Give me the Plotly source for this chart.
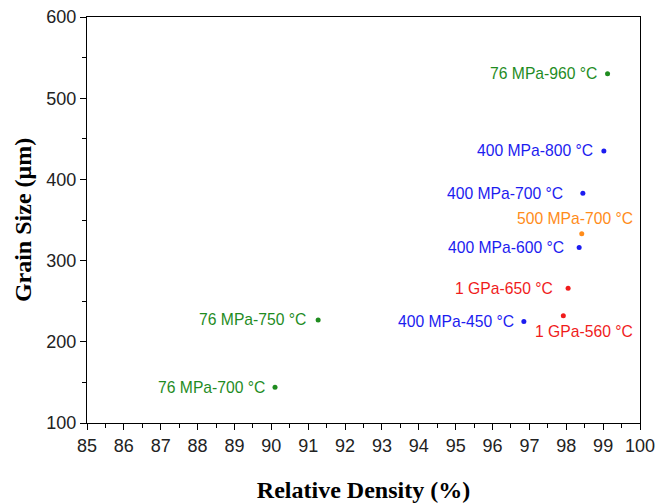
import plotly.graph_objects as go

# Data
labels = ["76 MPa-960 °C", "400 MPa-800 °C", "400 MPa-700 °C", "500 MPa-700 °C",
          "400 MPa-600 °C", "1 GPa-650 °C", "1 GPa-560 °C", "400 MPa-450 °C",
          "76 MPa-750 °C", "76 MPa-700 °C"]
density = [99.12, 99.02, 98.45, 98.42, 98.35, 98.05, 97.92, 96.85, 91.27, 90.1]
grain_size = [530, 435, 383, 333, 316, 266, 232, 225, 227, 144]
groups = ["green", "blue", "blue", "orange", "blue", "red", "red", "blue", "green", "green"]

# Styles
color_map = {"green": "#1f8c1f", "blue": "#1c1cf0", "orange": "#ff8c1a", "red": "#f01c1c"}
# label offsets (px) and anchors
label_style = [
    (-9, 0, "right"), (-9, 0, "right"), (-18, 0, "right"), (-7, -15, "center"),
    (-13, 0, "right"), (-13, 0, "right"), (21, 16, "center"), (-8, 0, "right"),
    (-10, 0, "right"), (-8, 0, "right"),
]

colors = [color_map[g] for g in groups]

fig = go.Figure()
fig.add_trace(go.Scatter(
    x=density, y=grain_size, mode="markers",
    marker=dict(size=5, color=colors),
    showlegend=False, hoverinfo="skip"))

for lab, xv, yv, c, (dx, dy, anc) in zip(labels, density, grain_size, colors, label_style):
    fig.add_annotation(x=xv, y=yv, text=lab, showarrow=False,
                       xanchor=anc, yanchor="middle", xshift=dx, yshift=-dy,
                       font=dict(family="Liberation Sans, Arial", size=15.7, color=c))

axis_common = dict(showline=True, linecolor="black", linewidth=1.3, mirror=True,
                   ticks="outside", ticklen=6, tickwidth=1.2, tickcolor="black",
                   showgrid=False, zeroline=False, automargin=False,
                   ticklabeloverflow="allow",
                   tickfont=dict(family="Liberation Sans, Arial", size=18, color="#222"),
                   minor=dict(ticks="outside", ticklen=3.5, tickwidth=1, tickcolor="black"))

fig.update_xaxes(range=[85, 100], dtick=1, tick0=85,
                 title=dict(text="<b>Relative Density (%)</b>", standoff=30,
                            font=dict(family="Liberation Serif, Times New Roman", size=24, color="black")),
                 **axis_common)
fig.update_xaxes(minor_dtick=0.5)
fig.update_yaxes(range=[100, 600], dtick=100, tick0=100,
                 title=dict(text="<b>Grain Size (μm)</b>", standoff=7,
                            font=dict(family="Liberation Serif, Times New Roman", size=24, color="black")),
                 **axis_common)
fig.update_yaxes(minor_dtick=50)

fig.update_layout(width=656, height=503, margin=dict(l=87, r=16, t=17, b=80),
                  plot_bgcolor="white", paper_bgcolor="white")

fig.write_html("out.html", config={"displayModeBar": False},
               post_script="document.body.style.margin='0';document.body.style.overflow='hidden';")
